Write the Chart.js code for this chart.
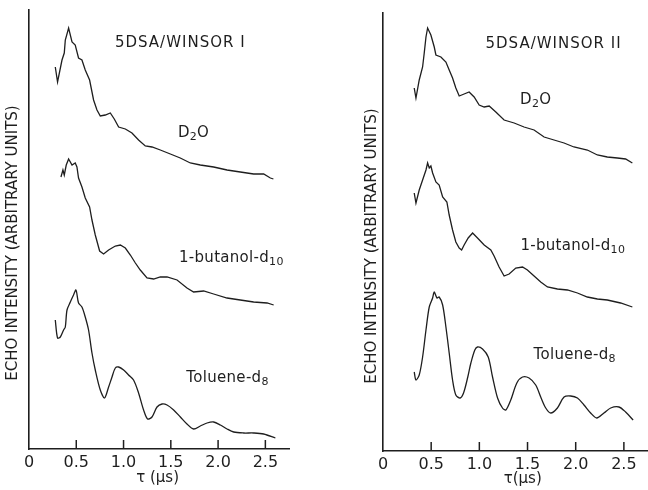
<!DOCTYPE html>
<html>
<head>
<meta charset="utf-8">
<title>ESE decay - 5DSA / Winsor</title>
<script src="https://cdn.jsdelivr.net/npm/chart.js@4.4.1/dist/chart.umd.min.js"></script>
<style>
  body { margin: 0; background: #fff; }
  #wrap { position: relative; width: 648px; height: 490px; }
  canvas { position: absolute; top: 0; }
  #c1 { left: 0; }
  #c2 { left: 330px; }
</style>
</head>
<body>
<div id="wrap">
  <canvas id="c1" width="330" height="490"></canvas>
  <canvas id="c2" width="318" height="490"></canvas>
</div>
<script>
// echo intensity vs tau (us), arbitrary units
const tauTicks = [0, 0.5, 1.0, 1.5, 2.0, 2.5];
const tickLabels = ['0', '0.5', '1.0', '1.5', '2.0', '2.5'];
const panelTitles = ['5DSA/WINSOR I', '5DSA/WINSOR II'];
const seriesNames = ['D_{2}O', '1-butanol-d_{10}', 'Toluene-d_{8}'];
const yTitle = 'ECHO INTENSITY (ARBITRARY UNITS)';
const xTitles = ['τ (μs)', 'τ(μs)'];

// Winsor I
const w1D2oTau = [0.278,0.302,0.349,0.373,0.384,0.419,0.455,0.489,0.524,0.560,0.595,0.641,0.683,0.719,0.754,0.807,0.860,0.902,0.948,1.019,1.089,1.159,1.230,1.301,1.389,1.495,1.600,1.706,1.812,1.953,2.095,2.235,2.376,2.482,2.553,2.585];
const w1D2oEcho = [382,367,389,396,409,421,407,404,391,389,379,369,349,339,333,334,336,330,322,320,316,309,303,302,299,295,291,286,284,282,279,277,275,275,271,270];
const w1ButTau = [0.338,0.359,0.373,0.394,0.419,0.455,0.489,0.507,0.524,0.560,0.595,0.641,0.666,0.701,0.747,0.789,0.842,0.913,0.966,1.019,1.072,1.125,1.177,1.248,1.318,1.389,1.460,1.566,1.671,1.741,1.847,1.953,2.095,2.235,2.376,2.518,2.588];
const w1ButEcho = [272,279,274,284,290,284,286,282,271,262,251,242,229,214,198,195,199,203,204,201,194,186,179,171,170,172,172,169,161,157,158,155,151,149,147,146,144];
const w1TolTau = [0.278,0.302,0.331,0.366,0.384,0.402,0.437,0.471,0.497,0.524,0.560,0.595,0.630,0.666,0.701,0.754,0.799,0.842,0.878,0.913,0.948,1.001,1.053,1.106,1.159,1.212,1.254,1.301,1.354,1.407,1.460,1.530,1.601,1.671,1.741,1.812,1.883,1.953,2.024,2.095,2.165,2.270,2.376,2.482,2.606];
const w1TolEcho = [129,111,112,119,122,139,147,154,159,146,142,132,119,96,79,59,51,62,72,81,82,79,74,69,56,39,30,32,42,45,44,39,32,25,20,23,26,27,24,20,17,16,16,15,11];

// Winsor II
const w2D2oTau = [0.324,0.342,0.376,0.411,0.428,0.446,0.463,0.497,0.532,0.549,0.601,0.653,0.687,0.722,0.756,0.791,0.842,0.894,0.946,0.998,1.050,1.102,1.171,1.257,1.361,1.464,1.568,1.672,1.775,1.879,1.982,2.121,2.225,2.328,2.432,2.518,2.588];
const w2D2oEcho = [363,353,371,384,398,414,423,416,404,396,394,389,381,373,363,355,357,359,354,346,344,345,339,331,328,324,321,314,311,308,304,301,296,294,293,292,288];
const w2ButTau = [0.324,0.342,0.376,0.411,0.446,0.463,0.480,0.497,0.515,0.549,0.583,0.619,0.663,0.687,0.722,0.756,0.791,0.816,0.842,0.884,0.930,0.981,1.050,1.119,1.153,1.205,1.257,1.309,1.378,1.448,1.499,1.568,1.637,1.707,1.810,1.914,2.018,2.121,2.225,2.328,2.466,2.588];
const w2ButEcho = [258,248,261,271,281,288,283,285,278,269,266,254,249,236,221,209,203,201,206,213,218,213,206,201,195,184,175,177,183,184,181,175,169,164,162,161,158,154,152,151,148,144];
const w2TolTau = [0.324,0.342,0.376,0.411,0.446,0.480,0.515,0.532,0.560,0.583,0.619,0.653,0.687,0.722,0.756,0.801,0.836,0.880,0.912,0.953,0.981,1.033,1.092,1.137,1.189,1.240,1.275,1.326,1.389,1.448,1.516,1.585,1.637,1.689,1.741,1.810,1.879,1.948,2.018,2.086,2.155,2.218,2.293,2.363,2.449,2.518,2.596];
const w2TolEcho = [79,71,76,94,121,144,153,159,153,154,146,124,98,71,56,53,58,74,88,101,104,102,94,74,53,43,41,51,68,74,73,66,54,43,38,43,54,55,53,46,38,33,38,43,44,39,31];

const INK = '#1e1e1e';
const FONT = '"DejaVu Sans", sans-serif';

// text like 'D_{2}O' -> odd parts are subscripts
function drawRich(ctx, text, cx, baseY, size, spacing) {
  const parts = text.split(/_\{|\}/);
  const sub = Math.round(size * 0.72);
  ctx.letterSpacing = (spacing || 0) + 'px';
  const w = parts.map((p, i) => {
    ctx.font = `${i % 2 ? sub : size}px ${FONT}`;
    return ctx.measureText(p).width;
  });
  let x = cx - w.reduce((a, b) => a + b, 0) / 2;
  ctx.textAlign = 'left';
  ctx.textBaseline = 'alphabetic';
  parts.forEach((p, i) => {
    ctx.font = `${i % 2 ? sub : size}px ${FONT}`;
    ctx.fillText(p, x, baseY + (i % 2 ? 3 : 0));
    x += w[i];
  });
  ctx.letterSpacing = '0px';
}

function annotate(geo, idx) {
  return {
    id: 'annotate',
    afterDatasetsDraw(chart) {
      const {ctx, chartArea, scales: {x, y}} = chart;
      ctx.save();
      ctx.fillStyle = INK;
      ctx.strokeStyle = INK;
      ctx.lineWidth = 1.5;
      // inward tick marks
      tauTicks.forEach(v => {
        if (v === 0) return;
        const px = x.getPixelForValue(v);
        ctx.beginPath();
        ctx.moveTo(px, chartArea.bottom);
        ctx.lineTo(px, chartArea.bottom - 9);
        ctx.stroke();
      });
      // panel title and curve names
      drawRich(ctx, panelTitles[idx], x.getPixelForValue(geo.title[0]), y.getPixelForValue(geo.title[1]), 15, 1);
      seriesNames.forEach((name, i) => {
        const a = geo.names[i];
        drawRich(ctx, name, x.getPixelForValue(a[0]), y.getPixelForValue(a[1]), 15, 0.3);
      });
      // axis titles
      ctx.font = `15px ${FONT}`;
      ctx.textAlign = 'center';
      ctx.textBaseline = 'middle';
      ctx.fillText(xTitles[idx], x.getPixelForValue(geo.xTitleAt), geo.xTitleY);
      ctx.translate(geo.yTitleX, geo.yTitleY);
      ctx.rotate(-Math.PI / 2);
      ctx.fillText(yTitle, 0, 0);
      ctx.restore();
    }
  };
}

function makePanel(canvasId, idx, series, geo) {
  return new Chart(document.getElementById(canvasId), {
    type: 'line',
    data: {
      datasets: series.map((s, i) => ({
        label: seriesNames[i].replace(/_\{|\}/g, ''),
        data: s.tau.map((t, k) => ({x: t, y: s.echo[k]})),
        borderColor: INK,
        borderWidth: 1.3,
        pointRadius: 0,
        fill: false,
        tension: i === 2 ? 0.3 : 0
      }))
    },
    options: {
      responsive: false,
      animation: false,
      devicePixelRatio: 1,
      layout: {padding: {top: geo.top, right: geo.right, left: 0, bottom: 0}},
      plugins: {legend: {display: false}, tooltip: {enabled: false}},
      scales: {
        x: {
          type: 'linear',
          min: 0,
          max: geo.tauMax,
          grid: {display: false, drawTicks: false},
          border: {color: INK, width: 1.6},
          afterBuildTicks: s => { s.ticks = tauTicks.map(v => ({value: v})); },
          afterFit: s => { s.height = geo.xHeight; },
          ticks: {
            padding: 4,
            color: INK,
            font: {family: FONT, size: 16},
            maxRotation: 0,
            callback: v => tickLabels[tauTicks.indexOf(v)]
          }
        },
        y: {
          type: 'linear',
          min: 0,
          max: geo.echoMax,
          grid: {display: false, drawTicks: false},
          border: {color: INK, width: 1.6},
          ticks: {display: false},
          afterFit: s => { s.width = geo.left; }
        }
      }
    },
    plugins: [annotate(geo, idx)]
  });
}

makePanel('c1', 0, [
  {tau: w1D2oTau, echo: w1D2oEcho},
  {tau: w1ButTau, echo: w1ButEcho},
  {tau: w1TolTau, echo: w1TolEcho}
], {
  left: 29, right: 41, top: 10, xHeight: 41, tauMax: 2.75, echoMax: 439,
  title: [1.60, 402], names: [[1.74, 312], [2.14, 187], [2.10, 67]],
  xTitleAt: 1.36, xTitleY: 478, yTitleX: 13, yTitleY: 243
});

makePanel('c2', 1, [
  {tau: w2D2oTau, echo: w2D2oEcho},
  {tau: w2ButTau, echo: w2ButEcho},
  {tau: w2TolTau, echo: w2TolEcho}
], {
  left: 53, right: 1, top: 13, xHeight: 39, tauMax: 2.74, echoMax: 438,
  title: [1.77, 403], names: [[1.585, 347], [1.97, 201], [1.99, 92]],
  xTitleAt: 1.45, xTitleY: 479, yTitleX: 42, yTitleY: 246
});
</script>
</body>
</html>
